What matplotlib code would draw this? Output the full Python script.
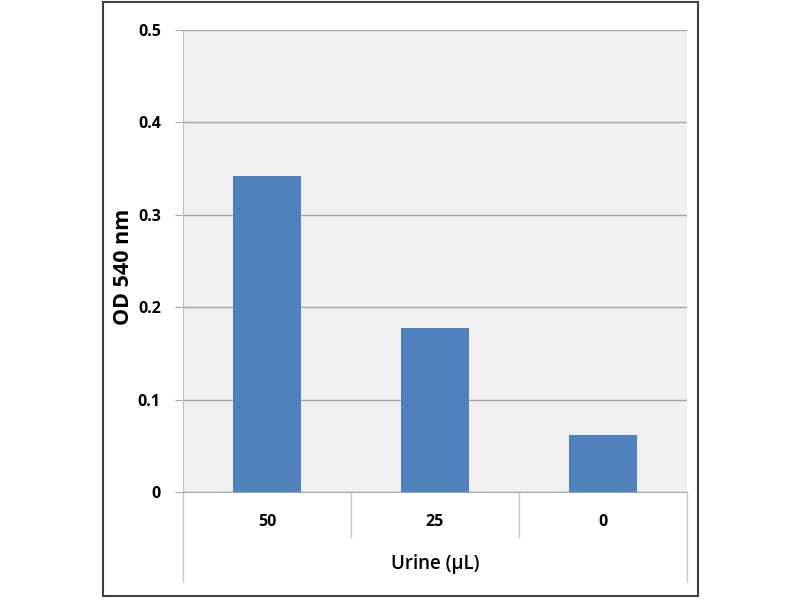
import matplotlib
matplotlib.use("Agg")
import matplotlib.pyplot as plt
from matplotlib.patches import Rectangle

categories = ["50", "25", "0"]
values = [0.342, 0.178, 0.062]
yticks = [0, 0.1, 0.2, 0.3, 0.4, 0.5]
ytick_labels = ["0", "0.1", "0.2", "0.3", "0.4", "0.5"]

plt.rcParams['font.family'] = ['Open Sans', 'DejaVu Sans']

fig = plt.figure(figsize=(8, 6), dpi=100)
ax = fig.add_axes([183/800, 1-492/600, 504/800, 462/600])
ax.set_facecolor('#f0f0f0')

x = list(range(len(categories)))
ax.bar(x, values, width=0.4, color='#4f81bd', zorder=3)
ax.set_xlim(-0.5, len(categories) - 0.5)
ax.set_ylim(0, 0.5)

ax.set_yticks(yticks)
ax.set_yticklabels(ytick_labels, fontsize=11.5, fontweight='bold')
ax.yaxis.grid(True, color='#a6a6a6', linewidth=1.0, zorder=1)
ax.tick_params(axis='y', length=6, color='#a6a6a6', pad=10)

ax.set_xticks(x)
ax.set_xticklabels(categories, fontsize=11.5, fontweight='bold')
ax.tick_params(axis='x', length=0, pad=16)

for s in ['top', 'right']:
    ax.spines[s].set_visible(False)
ax.spines['bottom'].set_color('#a6a6a6')
ax.spines['left'].set_color('#c0c0c0')

# extended axis lines below plot (category separators and frame)
ext_short = -45/462
ext_long = -90/462
ax.plot([0, 0], [0, ext_long], transform=ax.transAxes, clip_on=False, color='#c8c8c8', lw=1)
ax.plot([1, 1], [0, ext_long], transform=ax.transAxes, clip_on=False, color='#c8c8c8', lw=1)
for i in range(1, len(categories)):
    xf = i / len(categories)
    ax.plot([xf, xf], [0, ext_short], transform=ax.transAxes, clip_on=False, color='#c8c8c8', lw=1)

ax.set_ylabel("OD 540 nm", fontsize=15.5, fontweight='bold')
ax.yaxis.set_label_coords(-0.098, 0.487)
ax.set_xlabel("Urine (µL)", fontsize=13.5, fontweight='semibold', labelpad=17)

fig.patches.append(Rectangle((103/800, 4/600), 595/800, 594/600, transform=fig.transFigure,
                             fill=False, edgecolor='#404040', linewidth=1.5))

fig.savefig("out.png", dpi=100)
